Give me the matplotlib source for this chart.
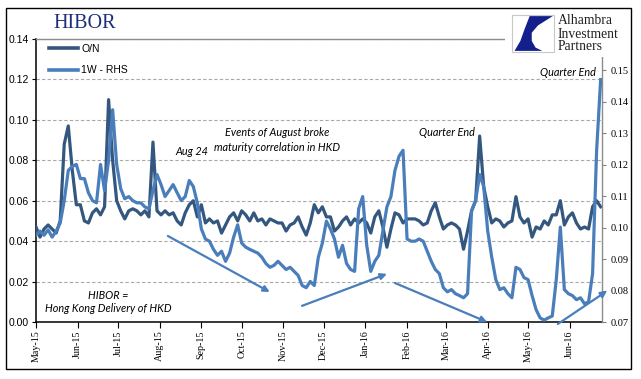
import matplotlib
matplotlib.use('Agg')
import matplotlib.pyplot as plt
from matplotlib.patches import Rectangle, Polygon
from matplotlib.ticker import FormatStrFormatter
import pandas as pd

# ---------------- data ----------------
start_date = '2015-05-01'
step = '3D'
on_values = [
    0.047, 0.042, 0.046, 0.048, 0.046, 0.044, 0.050, 0.088, 0.097, 0.075,
    0.058, 0.058, 0.050, 0.049, 0.054, 0.056, 0.053, 0.057, 0.110, 0.080,
    0.060, 0.055, 0.051, 0.055, 0.056, 0.055, 0.053, 0.055, 0.052, 0.089,
    0.055, 0.053, 0.055, 0.053, 0.054, 0.050, 0.048, 0.054, 0.058, 0.060,
    0.052, 0.058, 0.049, 0.051, 0.049, 0.050, 0.044, 0.048, 0.052, 0.054,
    0.050, 0.055, 0.053, 0.050, 0.054, 0.050, 0.051, 0.048, 0.051, 0.050,
    0.049, 0.049, 0.045, 0.048, 0.049, 0.052, 0.047, 0.043, 0.049, 0.058,
    0.054, 0.057, 0.052, 0.052, 0.045, 0.047, 0.050, 0.052, 0.048, 0.051,
    0.049, 0.051, 0.049, 0.044, 0.052, 0.055, 0.047, 0.037, 0.046, 0.054,
    0.053, 0.049, 0.051, 0.051, 0.051, 0.050, 0.048, 0.049, 0.055, 0.059,
    0.052, 0.046, 0.048, 0.049, 0.048, 0.046, 0.036, 0.045, 0.055, 0.060,
    0.092, 0.067, 0.057, 0.049, 0.051, 0.050, 0.047, 0.049, 0.050, 0.062,
    0.052, 0.049, 0.051, 0.042, 0.047, 0.046, 0.050, 0.048, 0.053, 0.053,
    0.060, 0.048, 0.052, 0.054, 0.049, 0.046, 0.047, 0.046, 0.057, 0.060, 0.057,
]
w1_values = [
    0.0976, 0.0989, 0.0976, 0.0993, 0.0970, 0.0989, 0.1015, 0.1086, 0.1182, 0.1195,
    0.1201, 0.1156, 0.1156, 0.1111, 0.1086, 0.1079, 0.1201, 0.1118, 0.1214, 0.1375,
    0.1201, 0.1124, 0.1092, 0.1099, 0.1086, 0.1079, 0.1079, 0.1066, 0.1060, 0.1118,
    0.1169, 0.1137, 0.1099, 0.1118, 0.1137, 0.1111, 0.1086, 0.1099, 0.1150, 0.1131,
    0.1079, 0.0996, 0.0964, 0.0957, 0.0931, 0.0912, 0.0925, 0.0893, 0.0919, 0.0970,
    0.1009, 0.0951, 0.0938, 0.0931, 0.0925, 0.0919, 0.0906, 0.0886, 0.0874, 0.0880,
    0.0893, 0.0880, 0.0867, 0.0874, 0.0861, 0.0848, 0.0816, 0.0809, 0.0829, 0.0816,
    0.0906, 0.0951, 0.1021, 0.0996, 0.0964, 0.0906, 0.0944, 0.0886, 0.0867, 0.0861,
    0.1060, 0.1099, 0.0944, 0.0861, 0.0893, 0.0912, 0.0989, 0.1066, 0.1099, 0.1182,
    0.1227, 0.1246, 0.0964, 0.0957, 0.0957, 0.0964, 0.0957, 0.0925, 0.0893, 0.0867,
    0.0854, 0.0809, 0.0796, 0.0803, 0.0790, 0.0784, 0.0777, 0.0790, 0.1054, 0.1086,
    0.1169, 0.1131, 0.0989, 0.0906, 0.0835, 0.0803, 0.0809, 0.0790, 0.0777, 0.0874,
    0.0867, 0.0841, 0.0835, 0.0784, 0.0739, 0.0713, 0.0706, 0.0713, 0.0719, 0.0835,
    0.1002, 0.0803, 0.0790, 0.0784, 0.0771, 0.0777, 0.0758, 0.0764, 0.0854, 0.1246, 0.1471,
]
dates = pd.date_range(start_date, periods=len(on_values), freq=step)
month_ticks = pd.date_range('2015-05-01', '2016-06-01', freq='MS')
month_labels = [d.strftime('%b-%y') for d in month_ticks]
left_ticks = [0.00, 0.02, 0.04, 0.06, 0.08, 0.10, 0.12, 0.14]
right_ticks = [0.07, 0.08, 0.09, 0.10, 0.11, 0.12, 0.13, 0.14, 0.15]
series_names = ['O/N', '1W - RHS']

# ---------------- style ----------------
W, H = 641, 379
C_ON = '#34577F'
C_1W = '#4A7EBB'
ARROW = '#4A7EBB'
SANS = 'Liberation Sans'
SERIF = 'Liberation Serif'
ITAL = 'Lato'

fig = plt.figure(figsize=(W / 100, H / 100), dpi=100)
fig.patch.set_facecolor('white')

def fx(x):
    return x / W

def fy(y):
    return 1 - y / H

ax = fig.add_axes([fx(36), fy(322), 566 / W, 283 / H])
ax2 = ax.twinx()

l1, = ax.plot(dates, on_values, color=C_ON, lw=2.3, solid_joinstyle='round', zorder=3)
l2, = ax2.plot(dates, w1_values, color=C_1W, lw=2.3, solid_joinstyle='round', zorder=3)

ax.set_xlim(pd.Timestamp('2015-05-01'), pd.Timestamp('2016-06-25'))
ax.set_ylim(0, 0.14)
ax2.set_ylim(0.07, 0.16)

ax.set_yticks(left_ticks)
ax.yaxis.set_major_formatter(FormatStrFormatter('%.2f'))
ax2.set_yticks(right_ticks)
ax2.yaxis.set_major_formatter(FormatStrFormatter('%.2f'))
ax.set_xticks(month_ticks)
ax.set_xticklabels(month_labels, rotation=90, fontfamily=SERIF, fontsize=7.2)

ax.yaxis.grid(True, linestyle=(0, (3, 2)), color='#a8a8a8', lw=0.8)
ax.set_axisbelow(True)

ax.tick_params(axis='y', direction='out', length=3, width=0.8, labelsize=7.5, pad=2)
for t in ax.get_yticklabels():
    t.set_fontfamily(SANS)
ax.tick_params(axis='x', direction='out', length=4, width=0.8, pad=2)
ax2.tick_params(axis='y', direction='out', length=3, width=0.8, labelsize=7.5, pad=3, color='#808080')
for t in ax2.get_yticklabels():
    t.set_fontfamily(SERIF)

for s in ['left', 'bottom']:
    ax.spines[s].set_color('black')
    ax.spines[s].set_linewidth(1.1)
ax.spines['top'].set_color('#8c8c8c')
ax.spines['top'].set_linewidth(1.0)
ax.spines['right'].set_visible(False)
for s in ['left', 'bottom', 'top']:
    ax2.spines[s].set_visible(False)
ax2.spines['right'].set_color('#8c8c8c')
ax2.spines['right'].set_linewidth(1.0)

# legend
leg = ax2.legend([l1, l2], series_names, loc='upper left', bbox_to_anchor=(0.012, 1.005),
                 frameon=False, handlelength=2.8, handletextpad=0.3, labelspacing=1.1,
                 prop={'family': SANS, 'size': 7.5}, borderaxespad=0.2)
for h in leg.get_lines():
    h.set_linewidth(2.6)

# arrows
arrows = [((0.233, 0.304), (0.413, 0.106)),
          ((0.470, 0.057), (0.620, 0.170)),
          ((0.634, 0.138), (0.797, 0.000)),
          ((0.922, -0.007), (1.009, 0.110))]
for st, en in arrows:
    ax2.annotate('', xy=en, xytext=st, xycoords='axes fraction', textcoords='axes fraction',
                 arrowprops=dict(arrowstyle='-|>', color=ARROW, lw=1.6, mutation_scale=9,
                                 shrinkA=0, shrinkB=0),
                 annotation_clip=False, zorder=6)

# annotations
ann = dict(fontfamily=ITAL, style='italic', fontsize=7.8, color='black',
           ha='center', va='center', transform=ax2.transAxes, zorder=7)
ax2.text(0.276, 0.604, 'Aug 24', **ann)
ax2.text(0.426, 0.671, 'Events of August broke', **ann)
ax2.text(0.426, 0.618, 'maturity correlation in HKD', **ann)
ax2.text(0.726, 0.671, 'Quarter End', **ann)
ax2.text(0.940, 0.883, 'Quarter End', **ann)
ax2.text(0.127, 0.095, 'HIBOR =', **ann)
ax2.text(0.127, 0.046, 'Hong Kong Delivery of HKD', **ann)

# title
fig.text(fx(53), fy(23), 'HIBOR', fontfamily=SERIF, fontsize=14.5, color='#1F2D7B',
         ha='left', va='center')

# logo (covers the top-right corner of the plot frame)
fig.add_artist(Rectangle((fx(505), fy(57)), (630 - 505) / W, (57 - 10) / H,
                         transform=fig.transFigure, facecolor='white', edgecolor='none', zorder=8))
bx0, by0, bx1, by1 = 512, 15, 554, 52
fig.add_artist(Rectangle((fx(bx0), fy(by1)), (bx1 - bx0) / W, (by1 - by0) / H,
                         transform=fig.transFigure, facecolor='white', edgecolor='#c8c8c8',
                         lw=0.8, zorder=9))

def lp(u, v):
    return (fx(bx0 + u * (bx1 - bx0)), fy(by1 - v * (by1 - by0)))

blue = [lp(0.42, 0.97), lp(0.97, 0.97), lp(0.62, 0.72), lp(0.47, 0.52), lp(0.47, 0.30),
        lp(0.56, 0.12), lp(0.72, 0.03), lp(0.06, 0.03), lp(0.20, 0.30), lp(0.30, 0.62)]
fig.add_artist(Polygon(blue, closed=True, transform=fig.transFigure, facecolor='#13208C',
                       edgecolor='none', zorder=10))
for i, word in enumerate(['Alhambra', 'Investment', 'Partners']):
    fig.text(fx(558), fy(21 + 13 * i), word, fontfamily=SERIF, fontsize=9.8, color='#222222',
             ha='left', va='center', zorder=11)

# outer border
fig.add_artist(Rectangle((fx(6), fy(369)), (631 - 6) / W, (369 - 8) / H,
                         transform=fig.transFigure, fill=False, edgecolor='black', lw=1.0,
                         zorder=12))

fig.savefig('out.png', dpi=100, facecolor='white')
